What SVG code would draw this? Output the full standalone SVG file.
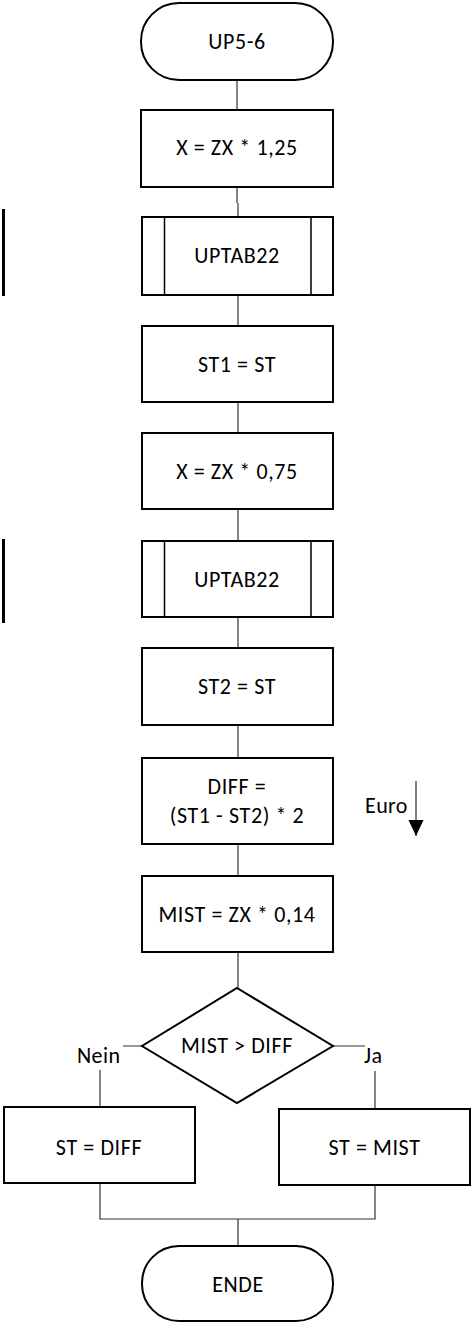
<svg xmlns="http://www.w3.org/2000/svg" width="471" height="1322" viewBox="0 0 471 1322">
<style>
.n{fill:#fff;stroke:#000;stroke-width:2}
.s{fill:none;stroke:#000;stroke-width:1.5}
.c{fill:none;stroke:#333;stroke-width:1.2}
.t{font-family:Carlito,Lato,"Liberation Sans",sans-serif;font-size:22px;letter-spacing:0.6px;fill:#000;text-anchor:middle}
.l{font-family:Carlito,Lato,"Liberation Sans",sans-serif;font-size:22px;letter-spacing:0.4px;fill:#000}
</style>
<defs>
<marker id="ah" markerWidth="17" markerHeight="16" refX="16" refY="7.5" orient="auto" markerUnits="userSpaceOnUse" viewBox="0 0 17 16">
<path d="M0,0 L16,7.5 L0,15 Z" fill="#000"/>
</marker>
</defs>
<g id="connectors">
<path class="c" d="M237,80 V110"/>
<path class="c" d="M237,187 V203 M238,203 V217"/>
<path class="c" d="M238,295 V326"/>
<path class="c" d="M238,402 V433"/>
<path class="c" d="M238,509 V541"/>
<path class="c" d="M238,617 V648"/>
<path class="c" d="M238,725 V758"/>
<path class="c" d="M238,844 V876"/>
<path class="c" d="M238,952 V988"/>
<path class="c" d="M142,1046 H123 M100,1070 V1107"/>
<path class="c" d="M333,1046 H365 M375,1071 V1109"/>
<path class="c" d="M100,1183 V1219 H375 V1185 M238,1219 V1246"/>
</g>
<g id="start">
<rect class="n" x="141" y="3" width="192" height="77" rx="38" ry="38"/>
<text class="t" x="237" y="49">UP5-6</text>
</g>
<g id="n1">
<rect class="n" x="141" y="110" width="192" height="77"/>
<text class="t" x="237" y="155">X = ZX * 1,25</text>
</g>
<g id="n2">
<rect class="n" x="142" y="217" width="191" height="78"/>
<path class="s" d="M164.5,217 V295 M311,217 V295"/>
<text class="t" x="237" y="263">UPTAB22</text>
</g>
<g id="bar1"><path d="M3.5,209 V296" stroke="#000" stroke-width="3"/></g>
<g id="n3">
<rect class="n" x="142" y="326" width="191" height="76"/>
<text class="t" x="237" y="372">ST1 = ST</text>
</g>
<g id="n4">
<rect class="n" x="142" y="433" width="191" height="76"/>
<text class="t" x="237" y="479">X = ZX * 0,75</text>
</g>
<g id="n5">
<rect class="n" x="142" y="541" width="191" height="76"/>
<path class="s" d="M164.5,541 V617 M311,541 V617"/>
<text class="t" x="237" y="587">UPTAB22</text>
</g>
<g id="bar2"><path d="M3.5,539 V623" stroke="#000" stroke-width="3"/></g>
<g id="n6">
<rect class="n" x="142" y="648" width="191" height="77"/>
<text class="t" x="237" y="694">ST2 = ST</text>
</g>
<g id="n7">
<rect class="n" x="142" y="758" width="191" height="86"/>
<text class="t" x="237" y="794">DIFF =</text>
<text class="t" x="237" y="823">(ST1 - ST2) *  2</text>
</g>
<g id="euro">
<text class="l" x="365" y="813">Euro</text>
<path d="M416,781 V836" stroke="#555" stroke-width="1.5" marker-end="url(#ah)"/>
</g>
<g id="n8">
<rect class="n" x="142" y="876" width="191" height="76"/>
<text class="t" x="237" y="922">MIST = ZX * 0,14</text>
</g>
<g id="d1">
<path class="n" d="M237,988 L333,1046 L237,1103 L142,1046 Z"/>
<text class="t" x="237" y="1053">MIST &gt; DIFF</text>
</g>
<g id="lbl-nein"><text class="l" x="77" y="1063">Nein</text></g>
<g id="lbl-ja"><text class="l" x="364" y="1063">Ja</text></g>
<g id="n9">
<rect class="n" x="4" y="1107" width="191" height="76"/>
<text class="t" x="99" y="1155">ST = DIFF</text>
</g>
<g id="n10">
<rect class="n" x="279" y="1109" width="191" height="76"/>
<text class="t" x="374.5" y="1155">ST = MIST</text>
</g>
<g id="end">
<rect class="n" x="142" y="1246" width="191" height="75" rx="37" ry="37"/>
<text class="t" x="238" y="1292">ENDE</text>
</g>
</svg>
